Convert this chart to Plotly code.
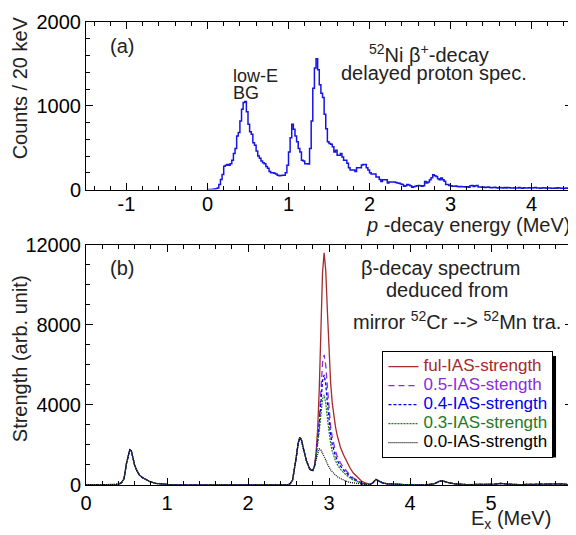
import plotly.graph_objects as go

# --- top panel: 52Ni beta-delayed proton spectrum, 20 keV bins starting at 0 MeV ---
bin_start = 0.0
bin_width = 0.02
counts = [
    0, 0, 0, 5, 8, 10, 20, 60, 120, 180,
    280, 290, 300, 290, 310, 350, 430, 490, 640, 680,
    820, 960, 1040, 1050, 930, 780, 690, 660, 560, 530,
    460, 400, 375, 340, 320, 310, 275, 255, 215, 200,
    200, 195, 185, 170, 165, 168, 172, 170, 200, 290,
    450, 620, 780, 720, 640, 570, 490, 450, 350, 340,
    310, 310, 305, 490, 820, 1210, 1450, 1560, 1430, 1250,
    1150, 1100, 900, 725, 570, 550, 540, 510, 450, 470,
    410, 410, 430, 390, 350, 350, 315, 260, 235, 235,
    235, 215, 260, 260, 260, 295, 300, 300, 260, 235,
    200, 185, 185, 185, 150, 150, 120, 98, 118, 118,
    118, 80, 90, 90, 90, 90, 85, 80, 75, 67,
    60, 39, 45, 60, 55, 45, 27, 35, 39, 45,
    50, 45, 39, 45, 98, 80, 90, 118, 140, 176,
    165, 157, 130, 118, 137, 118, 100, 60, 60, 50,
    45, 40, 40, 42, 38, 35, 36, 33, 35, 30,
    35, 28, 45, 50, 38, 45, 50, 32, 30, 28,
    30, 25, 28, 30, 26, 22, 25, 28, 22, 20,
    25, 22, 18, 24, 20, 26, 22, 18, 20, 22,
    18, 20, 24, 19, 17, 22, 20, 18, 21, 20,
    18, 22, 26, 20, 18, 15, 19, 22, 18, 16,
    20, 18, 15, 17, 20, 16, 22, 18, 15, 17,
    14, 18, 16, 20, 18,
]
top_tickvals = [-1, 0, 1, 2, 3, 4]
top_ticktext = ["-1", "0", "1", "2", "3", "4"]

# --- bottom panel: beta-decay strength deduced from mirror transitions ---
ex_low = [0.00, 0.30, 0.36, 0.40, 0.44, 0.47, 0.50, 0.52, 0.54, 0.56, 0.58, 0.60,
          0.63, 0.66, 0.70, 0.75, 0.80, 0.86, 0.92, 1.00, 1.06, 1.15,
          2.40, 2.48, 2.52, 2.55, 2.59, 2.62, 2.64, 2.66, 2.68, 2.72, 2.76, 2.78]
s_low = [0, 0, 5, 30, 120, 320, 1080, 1500, 1760, 1700, 1330, 1000,
         700, 490, 360, 240, 150, 80, 55, 35, 10, 0,
         0, 5, 60, 245, 1230, 2100, 2380, 2250, 1890, 1230, 820, 740]

ex_ias = [2.80, 2.82, 2.84, 2.86, 2.88, 2.90, 2.92, 2.94, 2.96, 2.98, 3.00, 3.02,
          3.04, 3.06, 3.08, 3.10, 3.14, 3.18, 3.22, 3.26, 3.30, 3.35, 3.40, 3.45, 3.50]
s_ful = [720, 950, 1600, 2800, 4800, 7600, 10600, 11600, 10700, 8700, 6600, 5100,
         4100, 3400, 2900, 2500, 1900, 1500, 1150, 850, 600, 380, 200, 100, 40]
s_05 = [720, 925, 1425, 2200, 3300, 4680, 6100, 6500, 5980, 4880, 3740, 2930,
        2380, 1980, 1690, 1460, 1110, 870, 665, 490, 350, 225, 120, 60, 25]
s_04 = [720, 920, 1390, 2080, 3000, 4090, 5200, 5500, 5030, 4110, 3170, 2500,
        2040, 1700, 1450, 1250, 950, 745, 570, 420, 300, 195, 105, 50, 20]
s_03 = [720, 915, 1355, 1960, 2700, 3500, 4300, 4500, 4080, 3340, 2600, 2060,
        1690, 1410, 1210, 1040, 795, 620, 470, 345, 250, 165, 90, 45, 15]
s_00 = [720, 900, 1250, 1600, 1800, 1750, 1600, 1450, 1250, 1050, 880, 760,
        660, 560, 480, 420, 320, 240, 180, 130, 100, 70, 40, 20, 5]

ex_high = [3.54, 3.58, 3.62, 3.66, 3.72, 3.80, 3.95, 4.20, 4.30, 4.36, 4.40, 4.46,
           4.55, 4.70, 4.95, 5.05, 5.12, 5.20, 5.35, 5.50, 5.57, 5.65, 5.80, 5.87, 5.95, 6.00]
s_high = [100, 280, 190, 110, 60, 35, 15, 10, 60, 180, 210, 130,
          60, 20, 10, 40, 80, 40, 20, 30, 50, 25, 30, 60, 20, 10]

series = [
    ("ful-IAS-strength", s_ful, "#a52a2a", "solid", 1.3),
    ("0.5-IAS-stength", s_05, "#8a2be2", "6px,4px", 1.3),
    ("0.4-IAS-strength", s_04, "#0000ee", "3px,2px", 1.3),
    ("0.3-IAS-strength", s_03, "#1e7b1e", "2px,1px", 1.2),
    ("0.0-IAS-strength", s_00, "#000000", "1px,1px", 1.2),
]

FONT = "Liberation Sans, Arial, sans-serif"

fig = go.Figure()

fig.add_trace(go.Scatter(
    x0=bin_start, dx=bin_width, y=counts, mode="lines", line_shape="hv",
    line=dict(color="#1414e6", width=1.5), showlegend=False,
    xaxis="x", yaxis="y"))

for name, vals, color, dash, width in series:
    fig.add_trace(go.Scatter(
        x=ex_low + ex_ias + ex_high, y=s_low + vals + s_high, mode="lines",
        line=dict(color=color, dash=dash, width=width),
        name=f"<span style='font-size:17px;color:{color}'>{name}</span>",
        xaxis="x2", yaxis="y2"))

axis_style = dict(showline=True, linecolor="black", linewidth=1, mirror="allticks",
                  ticks="inside", ticklen=7, tickcolor="black", showgrid=False,
                  zeroline=False, tickfont=dict(size=20, color="black"))

# page body has an 8px margin, so the figure is drawn 8px in from the window edge
fig.update_layout(
    width=568, height=527,
    margin=dict(l=78, r=3, t=7, b=50),
    paper_bgcolor="white", plot_bgcolor="white",
    font=dict(family=FONT, size=20, color="#222222"),
    xaxis=dict(domain=[0, 1], anchor="y", range=[-1.5, 4.5],
               tickvals=top_tickvals, ticktext=top_ticktext, ticklabelstandoff=-4,
               minor=dict(dtick=0.2, tick0=0, ticks="inside", ticklen=4, tickcolor="black"),
               **axis_style),
    yaxis=dict(domain=[0.638, 1], anchor="x", range=[0, 2000], dtick=1000, tickformat="d",
               minor=dict(dtick=200, ticks="inside", ticklen=4, tickcolor="black"),
               **axis_style),
    xaxis2=dict(domain=[0, 1], anchor="y2", range=[0, 6], dtick=1,
                minor=dict(dtick=0.2, tick0=0, ticks="inside", ticklen=4, tickcolor="black"),
                **axis_style),
    yaxis2=dict(domain=[0, 0.519], anchor="x2", range=[0, 12000], dtick=4000, tickformat="d",
                minor=dict(dtick=1000, ticks="inside", ticklen=4, tickcolor="black"),
                **axis_style),
    legend=dict(x=0.61, y=0.289, xanchor="left", yanchor="top",
                bgcolor="white", bordercolor="black", borderwidth=1,
                font=dict(size=12), tracegroupgap=0),
)

annotations = [
    dict(text="Counts / 20 keV", xref="paper", yref="paper", x=-0.1355, y=0.857,
         textangle=-90),
    dict(text="Strength (arb. unit)", xref="paper", yref="paper", x=-0.1355, y=0.272,
         textangle=-90),
    dict(text="<i>p</i> -decay energy (MeV)", xref="paper", yref="paper", x=1.0, y=0.562,
         xanchor="right"),
    dict(text="E<sub>x</sub> (MeV)", xref="paper", yref="paper", x=0.875, y=-0.0745),
    dict(text="(a)", xref="x", yref="y", x=-1.06, y=1718),
    dict(text="<sup>52</sup>Ni β<sup>+</sup>-decay", xref="x", yref="y", x=2.73, y=1624),
    dict(text="delayed proton spec.", xref="x", yref="y", x=2.80, y=1388),
    dict(text="low-E", xref="x", yref="y", x=0.295, y=1353, xanchor="left", font=dict(size=18)),
    dict(text="BG", xref="x", yref="y", x=0.295, y=1153, xanchor="left", font=dict(size=18)),
    dict(text="(b)", xref="x2", yref="y2", x=0.44, y=10821),
    dict(text="β-decay spectrum", xref="x2", yref="y2", x=4.38, y=10821),
    dict(text="deduced from", xref="x2", yref="y2", x=4.46, y=9739),
    dict(text="mirror <sup>52</sup>Cr --> <sup>52</sup>Mn tra.", xref="x2", yref="y2", x=4.58, y=8214),
]
for a in annotations:
    a.setdefault("showarrow", False)
    a.setdefault("xanchor", "center")
    a.setdefault("yanchor", "middle")
    fig.add_annotation(**a)

# drop shadow behind the legend box
fig.add_shape(type="rect", xref="paper", yref="paper",
              x0=(387 - 86) / 487, x1=(557 - 86) / 487,
              y0=(485 - 457) / 470, y1=(485 - 354) / 470,
              fillcolor="black", line=dict(width=0), layer="above")

fig.write_html("out.html")
